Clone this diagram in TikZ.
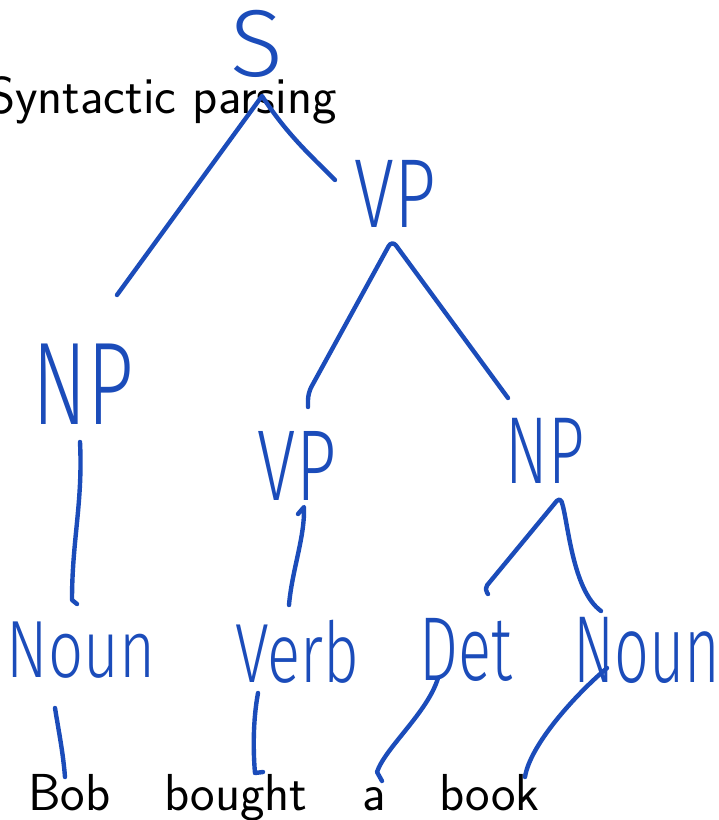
\documentclass[tikz,border=0pt]{standalone}
\usepackage{fontspec}
\usepackage{graphicx}
\newfontfamily\handfont{Fira Sans Light}
\definecolor{ink}{RGB}{27,76,186}
% handwritten-style label: horizontal and vertical stretch, then text
\newcommand{\hw}[3]{\scalebox{#1}[#2]{#3}}
\begin{document}
\begin{tikzpicture}[x=1pt,y=-1pt,
  typed/.style={font=\sffamily\fontsize{52}{56}\selectfont, inner sep=0pt, text=black},
  hand/.style={font=\handfont\fontsize{56}{60}\selectfont, text=ink, inner sep=0pt},
  pen/.style={draw=ink, line width=4.4pt, line cap=round, line join=round}]

\useasboundingbox[fill=white] (0,0) rectangle (719,820);

% typed text
\node[typed, anchor=base east] (title) at (337,113) {Syntactic parsing};
\node[typed, anchor=base west] (bob)    at (28,810)  {Bob};
\node[typed, anchor=base west] (bought) at (164,810) {bought};
\node[typed, anchor=base west] (a)      at (362,810) {a};
\node[typed, anchor=base west] (book)   at (439,810) {book};

% tree labels
\node[hand] (s)     at (257,44)  {\hw{1.75}{1.7}{S}};
\node[hand] (vp1)   at (395,194) {\hw{1.3}{1.75}{VP}};
\node[hand] (np1)   at (83,384)  {\hw{1.45}{2.1}{NP}};
\node[hand] (vp2)   at (297,466) {\hw{1.25}{1.8}{VP}};
\node[hand] (np2)   at (545,451) {\hw{1.13}{1.7}{NP}};
\node[hand] (noun1) at (81,650)  {\hw{1.1}{1.45}{Noun}};
\node[hand] (verb)  at (297,652) {\hw{1.1}{1.5}{Verb}};
\node[hand] (det)   at (466,650) {\hw{1.1}{1.62}{Det}};
\node[hand] (noun2) at (647,650) {\hw{1.09}{1.7}{Noun}};

% branch points and ends
\coordinate (s-apex)    at (262,96);
\coordinate (s-left)    at (117,295);
\coordinate (s-right)   at (335,180);
\coordinate (vp1-apex)  at (392,240);
\coordinate (vp1-left)  at (308,407);
\coordinate (vp1-right) at (508,398);
\coordinate (np1-foot)  at (80,442);
\coordinate (noun1-top) at (72,600);
\coordinate (vp2-foot)  at (298,514);
\coordinate (verb-top)  at (289,605);
\coordinate (np2-apex)  at (560,497);
\coordinate (np2-left)  at (488,594);
\coordinate (np2-right) at (601,611);
\coordinate (noun1-foot) at (55,708);
\coordinate (bob-top)    at (65,777);
\coordinate (verb-foot)  at (258,693);
\coordinate (bought-top) at (255,773);
\coordinate (det-foot)   at (438,678);
\coordinate (a-top)      at (377,772);
\coordinate (noun2-foot) at (607,668);
\coordinate (book-top)   at (525,777);

% S -> NP VP
\draw[pen] (s-left) -- (s-apex) .. controls +(25,38) and +(-28,-28) .. (s-right);
% VP -> VP NP
\draw[pen, rounded corners=7] (vp1-left) -- ++(0,-14) -- (vp1-apex) -- (vp1-right);
% NP -> Noun
\draw[pen] (np1-foot) .. controls +(3,60) and +(0,-60) .. (noun1-top) -- ++(5,4);
% VP -> Verb
\draw[pen] (vp2-foot) -- ++(6,-7) .. controls +(1,30) and +(3,-35) .. (verb-top);
% NP -> Det Noun
\draw[pen, rounded corners=5] (np2-left) -- ++(-4,-5) -- (np2-apex)
  .. controls (568,520) and (572,590) .. (np2-right);
% preterminals -> words
\draw[pen] (noun1-foot) .. controls +(4,25) and +(-2,-25) .. (bob-top);
\draw[pen] (verb-foot) .. controls +(-5,27) and +(-2,-23) .. (bought-top) -- ++(8,-1);
\draw[pen] (det-foot) .. controls +(-10,34) and +(8,-24) .. (a-top) -- ++(5,9);
\draw[pen] (noun2-foot) .. controls +(-32,27) and +(5,-32) .. (book-top);
\end{tikzpicture}
\end{document}
